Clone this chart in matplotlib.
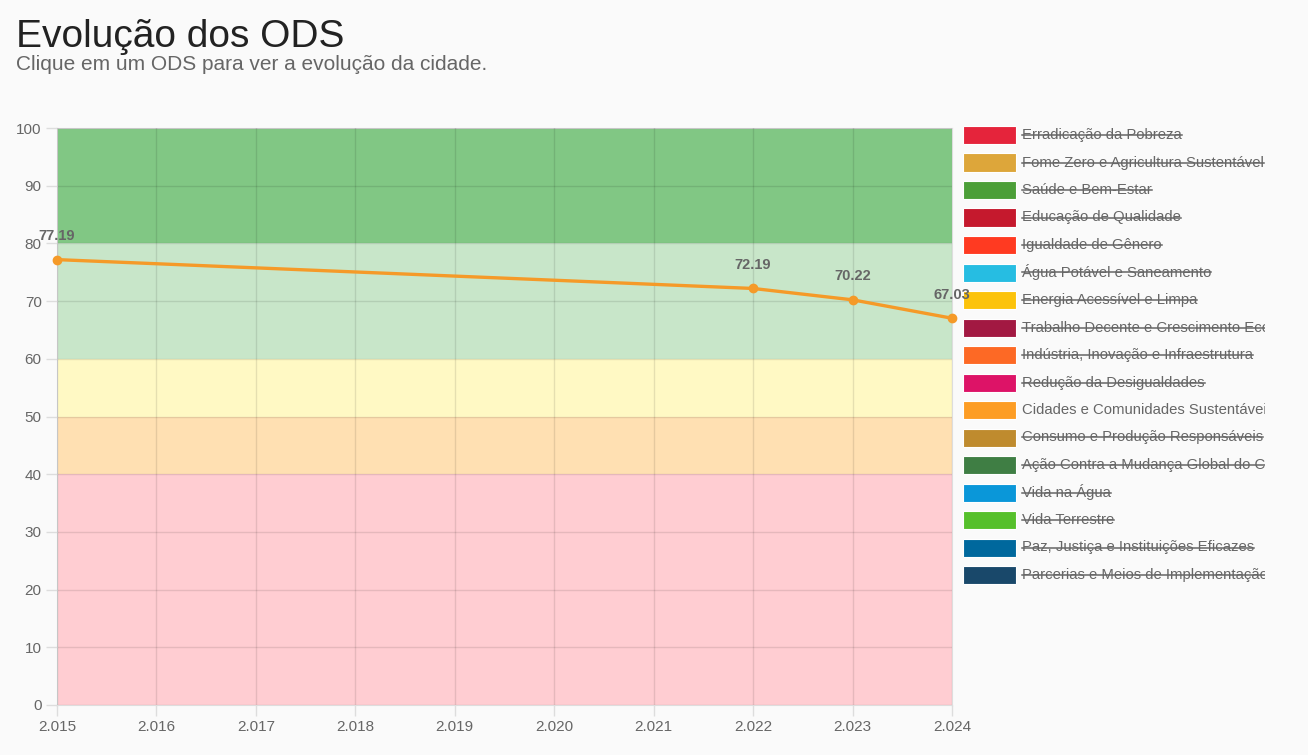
import matplotlib.pyplot as plt
from matplotlib.patches import Rectangle
from matplotlib.lines import Line2D
from matplotlib.transforms import Bbox, TransformedBbox

plt.rcParams['font.family'] = ['Liberation Sans', 'DejaVu Sans']

years = [2015, 2016, 2017, 2018, 2019, 2020, 2021, 2022, 2023, 2024]
data_years = [2015, 2022, 2023, 2024]
scores = [77.19, 72.19, 70.22, 67.03]

bands = [(0, 40, '#ffcdd2'), (40, 50, '#ffe0b2'), (50, 60, '#fff9c4'),
         (60, 80, '#c8e6c9'), (80, 100, '#81c784')]

ods_names = [
    "Erradicação da Pobreza",
    "Fome Zero e Agricultura Sustentável",
    "Saúde e Bem-Estar",
    "Educação de Qualidade",
    "Igualdade de Gênero",
    "Água Potável e Saneamento",
    "Energia Acessível e Limpa",
    "Trabalho Decente e Crescimento Econômico",
    "Indústria, Inovação e Infraestrutura",
    "Redução da Desigualdades",
    "Cidades e Comunidades Sustentáveis",
    "Consumo e Produção Responsáveis",
    "Ação Contra a Mudança Global do Clima",
    "Vida na Água",
    "Vida Terrestre",
    "Paz, Justiça e Instituições Eficazes",
    "Parcerias e Meios de Implementação",
]
ods_colors = ['#e5243b', '#dda63a', '#4c9f38', '#c5192d', '#ff3a21', '#26bde2',
              '#fcc30b', '#a21942', '#fd6925', '#dd1367', '#fd9d24', '#bf8b2e',
              '#3f7e44', '#0a97d9', '#56c02b', '#00689d', '#19486a']
ods_visible = [False] * 17
ods_visible[10] = True

W, H = 1308, 755
fig = plt.figure(figsize=(W / 100, H / 100), dpi=100)
fig.patch.set_facecolor('#fafafa')

ax = fig.add_axes([57 / W, 1 - 705 / H, (952 - 57) / W, (705 - 128) / H])
ax.set_facecolor('#fafafa')
ax.set_zorder(2)
ax.patch.set_alpha(0)
for lo, hi, c in bands:
    ax.axhspan(lo, hi, color=c, zorder=0, lw=0)

ax.plot(data_years, scores, color='#f59a28', lw=2.4, marker='o', ms=6, zorder=3, clip_on=False)
for x, y in zip(data_years, scores):
    ax.annotate(f"{y:.2f}", (x, y), xytext=(0, 12), textcoords='offset points',
                ha='center', va='bottom', fontsize=10.5, fontweight='bold', color='#666666', zorder=4)

ax.set_xlim(2015, 2024)
ax.set_ylim(0, 100)
ax.set_xticks(years)
ax.set_xticklabels([f"{y // 1000}.{y % 1000:03d}" for y in years])
ax.set_yticks(range(0, 101, 10))
ax.grid(True, color='black', alpha=0.1, lw=1, zorder=1)
ax.set_axisbelow(False)
ax.tick_params(colors='#666666', labelsize=11, length=8, width=1, pad=3)
ax.tick_params(axis='both', color='#dddddd')
for s in ax.spines.values():
    s.set_color('#dddddd')

fig.text(16 / W, 1 - 47 / H, "Evolução dos ODS", fontsize=28, color='#222222', va='baseline')
fig.text(16 / W, 1 - 70 / H, "Clique em um ODS para ver a evolução da cidade.", fontsize=15,
         color='#666666', va='baseline')

# legend
clip = TransformedBbox(Bbox.from_extents(1018 / W, 0, 1265 / W, 1), fig.transFigure)
texts = []
for i, (name, col) in enumerate(zip(ods_names, ods_colors)):
    yc = 135 + i * 27.5
    fig.add_artist(Rectangle((963 / W, 1 - (yc + 9) / H), 53 / W, 18 / H, zorder=1,
                             transform=fig.transFigure, facecolor=col, edgecolor='white', lw=0.8))
    t = fig.text(1022 / W, 1 - yc / H, name, fontsize=10.7, color='#666666', va='center')
    t.set_clip_box(clip)
    t.set_clip_on(True)
    texts.append(t)

fig.canvas.draw()
r = fig.canvas.get_renderer()
for t, vis in zip(texts, ods_visible):
    if vis:
        continue
    bb = t.get_window_extent(r)
    ym = (bb.y0 + bb.y1) / 2 / H
    ln = Line2D([bb.x0 / W, bb.x1 / W], [ym, ym], transform=fig.transFigure, color='#666666', lw=1.1)
    fig.add_artist(ln)
    ln.set_clip_box(clip)
    ln.set_clip_on(True)

fig.savefig('out.png', dpi=100, facecolor=fig.get_facecolor())
